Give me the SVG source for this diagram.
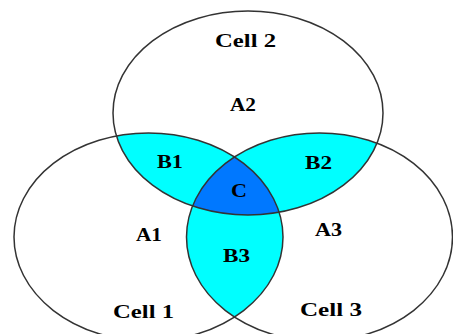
<svg xmlns="http://www.w3.org/2000/svg" width="453" height="334" viewBox="0 0 453 334">
<style>
.lbl{font-family:"Liberation Serif","Times New Roman",serif;font-weight:bold;font-size:18px;fill:#000}
.edge{fill:none;stroke:#333;stroke-width:1.5}
</style>
<defs>
<clipPath id="cT"><ellipse cx="248" cy="113" rx="135" ry="102"/></clipPath>
<clipPath id="cL"><ellipse cx="148.5" cy="237" rx="134.5" ry="104"/></clipPath>
<clipPath id="cR"><ellipse cx="319.5" cy="237" rx="133" ry="104"/></clipPath>
</defs>
<rect width="453" height="334" fill="#fff"/>
<g id="regions">
<g id="b1" clip-path="url(#cT)"><ellipse cx="148.5" cy="237" rx="134.5" ry="104" fill="#00ffff"/></g>
<g id="b2" clip-path="url(#cT)"><ellipse cx="319.5" cy="237" rx="133" ry="104" fill="#00ffff"/></g>
<g id="b3" clip-path="url(#cL)"><ellipse cx="319.5" cy="237" rx="133" ry="104" fill="#00ffff"/></g>
<g id="c" clip-path="url(#cT)"><g clip-path="url(#cL)"><ellipse cx="319.5" cy="237" rx="133" ry="104" fill="#0078ff"/></g></g>
</g>
<g id="cell2"><ellipse class="edge" cx="248" cy="113" rx="135" ry="102"/></g>
<g id="cell1"><ellipse class="edge" cx="148.5" cy="237" rx="134.5" ry="104"/></g>
<g id="cell3"><ellipse class="edge" cx="319.5" cy="237" rx="133" ry="104"/></g>
<g id="labels">
<text class="lbl" x="215" y="47" textLength="61" lengthAdjust="spacingAndGlyphs">Cell 2</text>
<text class="lbl" x="230" y="111" textLength="26" lengthAdjust="spacingAndGlyphs">A2</text>
<text class="lbl" x="157" y="168" textLength="26" lengthAdjust="spacingAndGlyphs">B1</text>
<text class="lbl" x="305" y="169" textLength="27" lengthAdjust="spacingAndGlyphs">B2</text>
<text class="lbl" x="231" y="197" textLength="16" lengthAdjust="spacingAndGlyphs">C</text>
<text class="lbl" x="136" y="241" textLength="26" lengthAdjust="spacingAndGlyphs">A1</text>
<text class="lbl" x="223" y="262" textLength="27" lengthAdjust="spacingAndGlyphs">B3</text>
<text class="lbl" x="315" y="236" textLength="27" lengthAdjust="spacingAndGlyphs">A3</text>
<text class="lbl" x="113" y="318" textLength="61" lengthAdjust="spacingAndGlyphs">Cell 1</text>
<text class="lbl" x="300" y="316" textLength="62" lengthAdjust="spacingAndGlyphs">Cell 3</text>
</g>
</svg>
